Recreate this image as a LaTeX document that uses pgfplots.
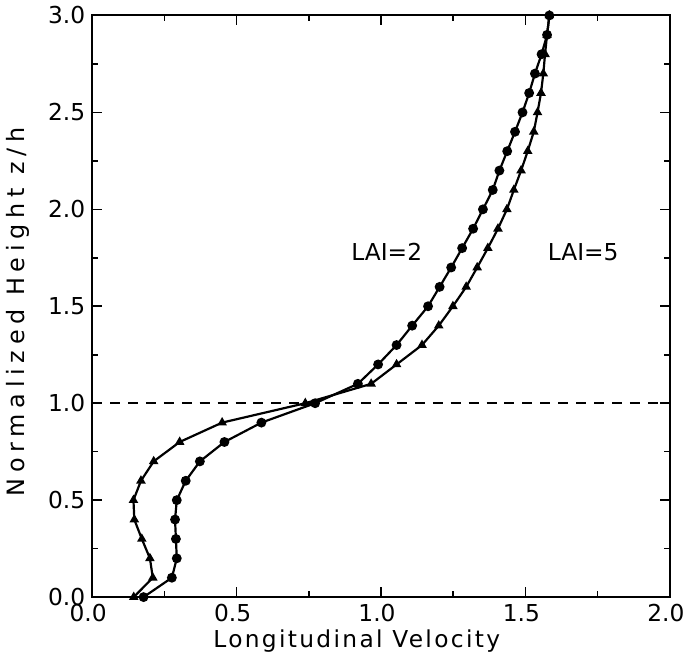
\documentclass[border=0pt]{standalone}
\usepackage{fontspec}
\setmainfont{DejaVu Sans}
\usepackage{pgfplots}
\pgfplotsset{compat=1.18}

% LAI = 2 (circles)
\pgfplotstableread{
u z
0.178 0.0
0.276 0.1
0.293 0.2
0.290 0.3
0.287 0.4
0.293 0.5
0.324 0.6
0.373 0.7
0.458 0.8
0.586 0.9
0.772 1.0
0.920 1.1
0.990 1.2
1.054 1.3
1.108 1.4
1.163 1.5
1.203 1.6
1.243 1.7
1.281 1.8
1.319 1.9
1.353 2.0
1.387 2.1
1.410 2.2
1.437 2.3
1.464 2.4
1.490 2.5
1.513 2.6
1.533 2.7
1.556 2.8
1.575 2.9
1.583 3.0
}\laiA

% LAI = 5 (triangles)
\pgfplotstableread{
u z
0.144 0.0
0.210 0.1
0.200 0.2
0.172 0.3
0.146 0.4
0.143 0.5
0.169 0.6
0.213 0.7
0.303 0.8
0.450 0.9
0.738 1.0
0.966 1.1
1.054 1.2
1.142 1.3
1.200 1.4
1.249 1.5
1.295 1.6
1.333 1.7
1.370 1.8
1.405 1.9
1.436 2.0
1.460 2.1
1.485 2.2
1.508 2.3
1.529 2.4
1.542 2.5
1.554 2.6
1.562 2.7
1.568 2.8
1.575 2.9
1.583 3.0
}\laiB

\begin{document}
\begin{tikzpicture}
\begin{axis}[
    scale only axis,
    width=290pt, height=292pt,
    xmin=0, xmax=2, ymin=0, ymax=3,
    xtick={0,0.5,1,1.5,2},
    ytick={0,0.5,1,1.5,2,2.5,3},
    minor x tick num=1, minor y tick num=1,
    tick align=inside,
    major tick length=5pt, minor tick length=3pt,
    tick style={black, line width=0.8pt},
    axis line style={line width=1pt},
    /pgf/number format/assume math mode=true,
    /pgf/number format/fixed, /pgf/number format/fixed zerofill,
    /pgf/number format/precision=1,
    ticklabel style={font=\fontsize{11.7}{13}\selectfont},
    xticklabel style={xshift=-2pt},
    xlabel={Longitudinal Velocity},
    ylabel={Normalized Height z/h},
    xlabel style={font=\fontsize{11.7}{13}\selectfont\addfontfeature{LetterSpace=10},
        at={(axis description cs:0.458,0)}, anchor=north, yshift=-13pt},
    ylabel style={font=\fontsize{12}{13}\selectfont\addfontfeature{LetterSpace=24},
        at={(axis description cs:-0.128,0.49)}, anchor=center},
]
\addplot[black, line width=0.75pt, dash pattern=on 5pt off 4pt] coordinates {(0,1) (2,1)};
\addplot[black, line width=1.1pt, mark=*, mark size=1.9pt] table[x=u, y=z] {\laiA};
\addplot[black, line width=1.1pt, mark=triangle*, mark size=1.7pt] table[x=u, y=z] {\laiB};
\node[font=\fontsize{11.7}{13}\selectfont] at (axis cs:1.02,1.78) {LAI=2};
\node[font=\fontsize{11.7}{13}\selectfont] at (axis cs:1.70,1.78) {LAI=5};
\end{axis}
\end{tikzpicture}
\end{document}
